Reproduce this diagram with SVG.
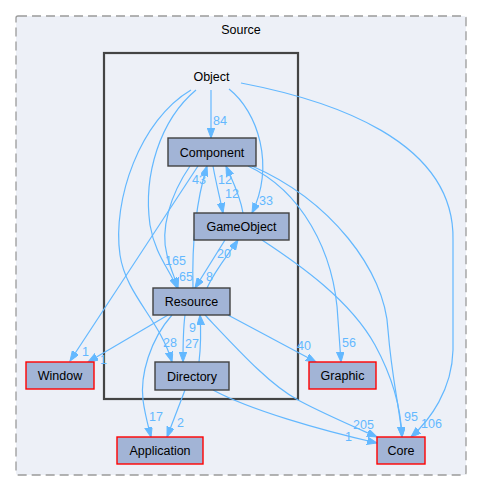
<svg xmlns="http://www.w3.org/2000/svg" width="483" height="491" viewBox="0 0 483 491">
<defs>
<marker id="ah" markerUnits="userSpaceOnUse" markerWidth="11" markerHeight="8" refX="10" refY="3.75" orient="auto">
<path d="M0,0 L10,3.75 L0,7.5 z" fill="#63b8ff" stroke="#63b8ff" stroke-width="1"/>
</marker>
</defs>
<style>
text{font-family:"Liberation Sans",Arial,sans-serif;font-size:12.5px;}
.lbl{fill:#000;text-anchor:middle;}
.nd{fill:#a2b4d6;stroke:#404040;stroke-width:1.4;}
.ext{fill:#a2b4d6;stroke:#ff0000;stroke-width:1.4;}
.e path{fill:none;stroke:#63b8ff;stroke-width:1.2;marker-end:url(#ah);}
.e text{fill:#63b8ff;}
</style>
<rect width="483" height="491" fill="#ffffff"/>
<g id="cluster-Source">
<rect x="16" y="16" width="450" height="459" rx="2" fill="#edf0f7" stroke="#9a9a9a" stroke-width="1.3" stroke-dasharray="9,5"/>
<text class="lbl" x="241" y="34">Source</text>
</g>
<g id="node-Object">
<rect x="104" y="53" width="194" height="346" fill="#edf0f7" stroke="#444444" stroke-width="2.2"/>
<text class="lbl" x="211.5" y="81">Object</text>
</g>
<g id="edges" class="e">
<path d="M211,90 L211,138"/><text x="213" y="125">84</text>
<path d="M229,89 C258,112 275,165 252,213"/><text x="259" y="205">33</text>
<path d="M196,90 C160,120 143,175 150,225 C155,255 170,270 177,288"/><text x="165" y="265">165</text>
<path d="M191,90 C140,120 112,200 120,255 C126,295 160,320 172,362"/><text x="163" y="347">28</text>
<path d="M241,83 C330,100 455,140 453,240 L453,350 C452,390 430,420 411,437"/><text x="421" y="428">106</text>
<path d="M198,166 L70,361"/><text x="82" y="356">1</text>
<path d="M190,166 C170,195 160,230 167,255 C170,268 175,278 178,288"/><text x="179" y="281">65</text>
<path d="M213,166 C216,183 220,198 223,213"/><text x="225" y="198">12</text>
<path d="M248,166 C300,190 335,250 338,320 L341,362"/><text x="342" y="347">56</text>
<path d="M252,166 C330,200 385,270 388,330 C392,380 400,410 402,437"/><text x="404" y="421">95</text>
<path d="M243,213 C240,195 232,180 226,166"/><text x="218" y="184">12</text>
<path d="M225,240 L195,288"/><text x="206" y="281">8</text>
<path d="M262,240 C300,265 350,300 375,345 C393,378 401,410 402,437"/>
<path d="M193,288 C192,250 195,205 207,166"/><text x="192" y="184">43</text>
<path d="M207,288 C215,270 228,255 238,240"/><text x="217" y="258">20</text>
<path d="M185,315 C183,330 183,345 183,362"/><text x="185" y="348">27</text>
<path d="M199,362 C201,345 201,330 200,315"/><text x="189" y="332">9</text>
<path d="M168,315 L88,362"/><text x="100" y="364">1</text>
<path d="M172,315 C150,340 140,375 143,400 C145,415 148,425 151,437"/><text x="149" y="421">17</text>
<path d="M228,315 L316,362"/><text x="297" y="350">40</text>
<path d="M205,315 C240,352 270,385 298,400 C320,412 350,425 377,437"/><text x="353" y="429">205</text>
<path d="M185,390 L167,437"/><text x="177" y="427">2</text>
<path d="M213,390 C250,410 320,430 377,443"/><text x="345" y="441">1</text>
</g>
<g id="node-Component"><rect class="nd" x="168" y="138" width="88" height="28"/><text class="lbl" x="212" y="156.5">Component</text></g>
<g id="node-GameObject"><rect class="nd" x="194" y="213" width="95" height="27"/><text class="lbl" x="241.5" y="231">GameObject</text></g>
<g id="node-Resource"><rect class="nd" x="153" y="288" width="77" height="27"/><text class="lbl" x="191.5" y="306">Resource</text></g>
<g id="node-Directory"><rect class="nd" x="155" y="362" width="74" height="28"/><text class="lbl" x="192" y="380.5">Directory</text></g>
<g id="node-Window"><rect class="ext" x="26" y="362" width="68" height="27"/><text class="lbl" x="60" y="380">Window</text></g>
<g id="node-Application"><rect class="ext" x="117" y="437" width="86" height="27"/><text class="lbl" x="160" y="455">Application</text></g>
<g id="node-Graphic"><rect class="ext" x="309" y="362" width="67" height="27"/><text class="lbl" x="342.5" y="380">Graphic</text></g>
<g id="node-Core"><rect class="ext" x="377" y="437" width="48" height="27"/><text class="lbl" x="401" y="455">Core</text></g>
</svg>
